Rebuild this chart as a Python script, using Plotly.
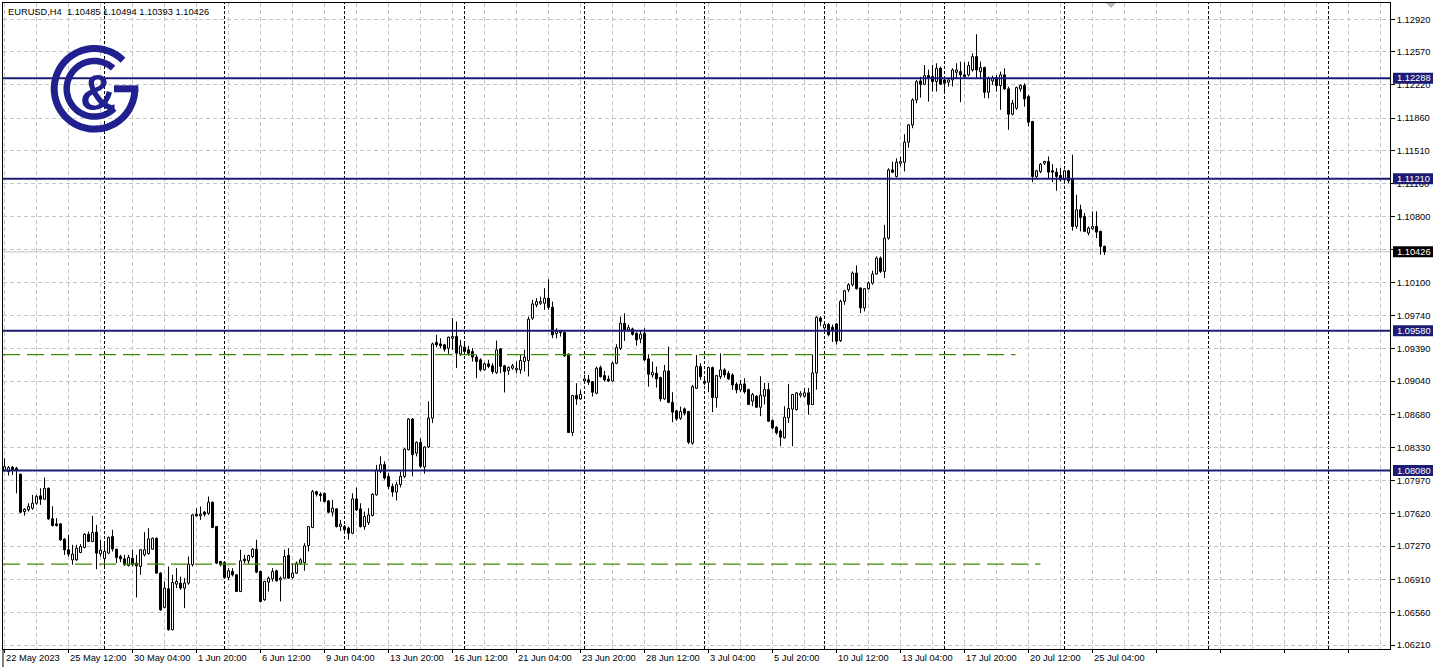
import numpy as np
import plotly.graph_objects as go

# ---------------- data (EURUSD H4 candles) ----------------
opens = [
1.08077,1.08069,1.08116,1.08105,1.08041,1.07641,1.07659,1.07677,1.07730,1.07809,
1.07773,1.07891,1.07563,1.07509,1.07509,1.07345,1.07231,1.07123,1.07123,1.07202,
1.07256,1.07398,1.07320,1.07420,1.07188,1.07138,1.07195,1.07373,1.07238,1.07159,
1.07134,1.07063,1.07141,1.07088,1.07052,1.07177,1.07191,1.07238,1.07355,1.06981,
1.06613,1.06813,1.06374,1.06863,1.06874,1.06820,1.06874,1.07070,1.07612,1.07595,
1.07634,1.07623,1.07741,1.07480,1.07105,1.07095,1.06934,1.06999,1.06963,1.06784,
1.07131,1.07113,1.07159,1.07238,1.06999,1.06695,1.06884,1.06920,1.07006,1.06909,
1.06927,1.07170,1.06934,1.06981,1.07088,1.07095,1.07277,1.07470,1.07855,1.07827,
1.07837,1.07755,1.07634,1.07670,1.07480,1.07480,1.07463,1.07409,1.07777,1.07670,
1.07480,1.07523,1.07598,1.07820,1.08072,1.08144,1.08018,1.07910,1.07850,1.07930,
1.08018,1.08304,1.08633,1.08268,1.08383,1.08119,1.08333,1.08643,1.09454,1.09439,
1.09429,1.09393,1.09500,1.09518,1.09332,1.09404,1.09375,1.09357,1.09297,1.09268,
1.09161,1.09225,1.09204,1.09132,1.09386,1.09204,1.09154,1.09179,1.09161,1.09161,
1.09250,1.09261,1.09714,1.09857,1.09875,1.09875,1.09929,1.09832,1.09550,1.09572,
1.09561,1.09328,1.08489,1.08885,1.08849,1.09042,1.09053,1.09035,1.08910,1.09185,
1.09099,1.09060,1.09042,1.09231,1.09392,1.09660,1.09588,1.09599,1.09553,1.09492,
1.09553,1.09278,1.09106,1.09124,1.09078,1.08849,1.09149,1.08813,1.08721,1.08642,
1.08742,1.08714,1.08375,1.08963,1.09196,1.09035,1.09028,1.09185,1.08863,1.09088,
1.09160,1.09124,1.09106,1.09006,1.08946,1.09010,1.08949,1.08825,1.08878,1.08760,
1.08878,1.08949,1.08617,1.08546,1.08503,1.08432,1.08646,1.08739,1.08735,1.08889,
1.08878,1.08914,1.08789,1.09128,1.09717,1.09610,1.09646,1.09617,1.09653,1.09474,
1.09895,1.10020,1.10074,1.10199,1.10038,1.09824,1.10031,1.10091,1.10188,1.10359,
1.10216,1.10573,1.11305,1.11234,1.11377,1.11387,1.11602,1.11787,1.12055,1.12259,
1.12223,1.12316,1.12306,1.12252,1.12395,1.12270,1.12245,1.12270,1.12352,1.12359,
1.12324,1.12324,1.12377,1.12520,1.12359,1.12402,1.12138,1.12259,1.12295,1.12209,
1.12324,1.12174,1.11902,1.11967,1.12174,1.12209,1.12091,1.11824,1.11235,1.11288,
1.11377,1.11395,1.11295,1.11281,1.11245,1.11199,1.11295,1.11210,1.10699,1.10878,
1.10806,1.10628,1.10674,1.10699,1.10646,1.10485]

highs = [
1.08212,1.08130,1.08130,1.08120,1.08048,1.07677,1.07730,1.07820,1.07820,1.07891,
1.08005,1.07898,1.07698,1.07570,1.07516,1.07355,1.07391,1.07284,1.07284,1.07291,
1.07409,1.07427,1.07595,1.07498,1.07338,1.07313,1.07373,1.07445,1.07241,1.07177,
1.07177,1.07177,1.07231,1.07177,1.07238,1.07420,1.07463,1.07363,1.07363,1.06991,
1.06891,1.07052,1.06963,1.07034,1.06945,1.06927,1.07159,1.07612,1.07677,1.07695,
1.07648,1.07802,1.07748,1.07487,1.07113,1.07105,1.07034,1.07034,1.06970,1.07231,
1.07177,1.07177,1.07248,1.07338,1.07006,1.06898,1.06945,1.07034,1.07016,1.06945,
1.07231,1.07248,1.07088,1.07105,1.07141,1.07302,1.07487,1.07873,1.07862,1.07848,
1.07844,1.07766,1.07766,1.07677,1.07552,1.07498,1.07480,1.07837,1.07898,1.07730,
1.07641,1.07677,1.07837,1.08141,1.08233,1.08179,1.08054,1.07940,1.07960,1.08072,
1.08322,1.08643,1.08643,1.08393,1.08429,1.08340,1.08822,1.09454,1.09536,1.09500,
1.09439,1.09518,1.09714,1.09679,1.09482,1.09464,1.09418,1.09393,1.09322,1.09286,
1.09240,1.09268,1.09232,1.09475,1.09393,1.09214,1.09197,1.09225,1.09250,1.09322,
1.09375,1.09732,1.09911,1.09929,1.09946,1.10036,1.10132,1.09893,1.09607,1.09589,
1.09579,1.09338,1.08892,1.09017,1.08946,1.09106,1.09106,1.09042,1.09196,1.09206,
1.09149,1.09099,1.09249,1.09435,1.09731,1.09767,1.09642,1.09613,1.09563,1.09588,
1.09606,1.09328,1.09249,1.09196,1.09088,1.09213,1.09410,1.08921,1.08731,1.08767,
1.08756,1.08721,1.08999,1.09321,1.09231,1.09088,1.09196,1.09196,1.09106,1.09338,
1.09178,1.09149,1.09124,1.09028,1.09053,1.09070,1.08960,1.08914,1.08889,1.09092,
1.09020,1.09020,1.08628,1.08557,1.08521,1.08771,1.09010,1.08903,1.08924,1.08931,
1.08967,1.08967,1.09324,1.09735,1.09735,1.09663,1.09663,1.09646,1.09663,1.09913,
1.10020,1.10091,1.10216,1.10281,1.10045,1.10038,1.10109,1.10224,1.10377,1.10377,
1.10716,1.11323,1.11394,1.11430,1.11448,1.11687,1.11794,1.12073,1.12269,1.12305,
1.12430,1.12380,1.12431,1.12448,1.12413,1.12288,1.12281,1.12395,1.12448,1.12466,
1.12459,1.12466,1.12555,1.12759,1.12466,1.12413,1.12306,1.12316,1.12324,1.12359,
1.12395,1.12198,1.12056,1.12198,1.12224,1.12234,1.12109,1.11831,1.11306,1.11377,
1.11402,1.11449,1.11367,1.11324,1.11324,1.11306,1.11306,1.11467,1.11038,1.10931,
1.10842,1.10699,1.10860,1.10860,1.10653,1.10494]

lows = [
1.08069,1.08027,1.08034,1.07837,1.07623,1.07598,1.07641,1.07659,1.07713,1.07713,
1.07766,1.07552,1.07480,1.07480,1.07327,1.07177,1.07159,1.07070,1.07113,1.07195,
1.07248,1.07313,1.07313,1.07023,1.07159,1.07052,1.07188,1.07213,1.07088,1.07098,
1.07059,1.07052,1.07052,1.06720,1.06963,1.07159,1.07177,1.07231,1.06975,1.06577,
1.06606,1.06363,1.06367,1.06820,1.06802,1.06606,1.06856,1.07052,1.07588,1.07552,
1.07588,1.07605,1.07463,1.07077,1.07052,1.06927,1.06909,1.06945,1.06777,1.06777,
1.07088,1.07077,1.07141,1.06981,1.06666,1.06684,1.06784,1.06891,1.06891,1.06677,
1.06920,1.06920,1.06920,1.06970,1.07070,1.07006,1.07213,1.07463,1.07802,1.07748,
1.07741,1.07623,1.07588,1.07470,1.07434,1.07427,1.07338,1.07398,1.07648,1.07470,
1.07445,1.07498,1.07588,1.07812,1.08054,1.07983,1.07880,1.07800,1.07760,1.07900,
1.08001,1.08297,1.08018,1.08233,1.08108,1.08047,1.08322,1.08590,1.09404,1.09393,
1.09357,1.09332,1.09375,1.09179,1.09311,1.09322,1.09311,1.09250,1.09072,1.09143,
1.09154,1.09179,1.09118,1.09118,1.09125,1.08918,1.09107,1.09161,1.09125,1.09118,
1.09143,1.09090,1.09697,1.09832,1.09857,1.09804,1.09804,1.09500,1.09500,1.09518,
1.09300,1.08482,1.08453,1.08785,1.08839,1.09017,1.08999,1.08874,1.08899,1.09078,
1.09035,1.09030,1.09035,1.09221,1.09374,1.09471,1.09571,1.09528,1.09420,1.09446,
1.09256,1.08981,1.09078,1.08971,1.08821,1.08839,1.08803,1.08599,1.08614,1.08624,
1.08671,1.08364,1.08357,1.08956,1.09053,1.08999,1.08921,1.08707,1.08756,1.09063,
1.09078,1.09053,1.08946,1.08910,1.08921,1.08905,1.08782,1.08771,1.08753,1.08664,
1.08789,1.08603,1.08521,1.08467,1.08342,1.08424,1.08592,1.08342,1.08724,1.08864,
1.08864,1.08681,1.08782,1.08949,1.09628,1.09560,1.09520,1.09460,1.09431,1.09460,
1.09859,1.09995,1.10056,1.10020,1.09770,1.09788,1.10020,1.10074,1.10181,1.10199,
1.10145,1.10556,1.11270,1.11223,1.11341,1.11288,1.11544,1.11752,1.12019,1.12080,
1.12216,1.12037,1.12145,1.12145,1.12216,1.12145,1.12199,1.12199,1.12288,1.12031,
1.12288,1.12306,1.12359,1.12288,1.12288,1.12074,1.12074,1.12216,1.12145,1.11949,
1.12163,1.11735,1.11888,1.11949,1.12145,1.11984,1.11770,1.11174,1.11217,1.11270,
1.11359,1.11217,1.11174,1.11081,1.11181,1.11188,1.11163,1.10653,1.10674,1.10646,
1.10638,1.10603,1.10663,1.10574,1.10396,1.10393]

closes = [
1.08123,1.08112,1.08087,1.08084,1.07634,1.07666,1.07695,1.07730,1.07802,1.07773,
1.07891,1.07563,1.07491,1.07491,1.07338,1.07231,1.07184,1.07184,1.07248,1.07266,
1.07398,1.07320,1.07416,1.07195,1.07227,1.07213,1.07363,1.07241,1.07148,1.07134,
1.07070,1.07148,1.07077,1.07059,1.07231,1.07231,1.07348,1.07355,1.06981,1.06588,
1.06820,1.06374,1.06881,1.06891,1.06820,1.06874,1.07077,1.07605,1.07595,1.07612,
1.07612,1.07741,1.07470,1.07088,1.07070,1.06934,1.07006,1.06963,1.06784,1.07113,
1.07113,1.07170,1.07238,1.06991,1.06677,1.06891,1.06927,1.06999,1.06898,1.06927,
1.07159,1.06927,1.06981,1.07088,1.07123,1.07273,1.07480,1.07855,1.07827,1.07812,
1.07748,1.07634,1.07677,1.07480,1.07505,1.07445,1.07409,1.07777,1.07659,1.07480,
1.07588,1.07605,1.07827,1.08087,1.08144,1.08001,1.07910,1.07850,1.07930,1.08018,
1.08311,1.08633,1.08251,1.08383,1.08126,1.08333,1.08643,1.09439,1.09429,1.09418,
1.09382,1.09511,1.09518,1.09339,1.09418,1.09357,1.09339,1.09297,1.09250,1.09161,
1.09225,1.09197,1.09143,1.09375,1.09197,1.09143,1.09186,1.09204,1.09179,1.09261,
1.09297,1.09704,1.09868,1.09893,1.09893,1.09929,1.09832,1.09536,1.09572,1.09561,
1.09310,1.08489,1.08885,1.08849,1.08899,1.09063,1.09028,1.08921,1.09178,1.09088,
1.09053,1.09042,1.09231,1.09399,1.09660,1.09588,1.09613,1.09542,1.09481,1.09542,
1.09267,1.09113,1.09135,1.09063,1.08849,1.09149,1.08813,1.08707,1.08635,1.08714,
1.08696,1.08385,1.08981,1.09196,1.09088,1.09017,1.09185,1.08863,1.09099,1.09160,
1.09106,1.09063,1.08999,1.08946,1.09006,1.08925,1.08789,1.08896,1.08760,1.08889,
1.08949,1.08610,1.08539,1.08485,1.08439,1.08653,1.08746,1.08896,1.08914,1.08907,
1.08914,1.08789,1.09128,1.09724,1.09681,1.09646,1.09538,1.09592,1.09467,1.09895,
1.10009,1.10074,1.10199,1.10031,1.09824,1.10031,1.10091,1.10188,1.10359,1.10216,
1.10573,1.11305,1.11280,1.11387,1.11394,1.11602,1.11787,1.12055,1.12251,1.12223,
1.12316,1.12287,1.12252,1.12395,1.12224,1.12234,1.12270,1.12377,1.12377,1.12324,
1.12306,1.12423,1.12520,1.12377,1.12402,1.12138,1.12288,1.12288,1.12209,1.12324,
1.12174,1.11902,1.12020,1.12188,1.12209,1.12066,1.11817,1.11235,1.11295,1.11367,
1.11395,1.11281,1.11281,1.11235,1.11199,1.11295,1.11188,1.10699,1.10878,1.10796,
1.10646,1.10681,1.10699,1.10638,1.10485,1.10426]

date_labels = ["22 May 2023", "25 May 12:00", "30 May 04:00", "1 Jun 20:00", "6 Jun 12:00",
               "9 Jun 04:00", "13 Jun 20:00", "16 Jun 12:00", "21 Jun 04:00", "23 Jun 20:00",
               "28 Jun 12:00", "3 Jul 04:00", "5 Jul 20:00", "10 Jul 12:00", "13 Jul 04:00",
               "17 Jul 20:00", "20 Jul 12:00", "25 Jul 04:00"]
date_label_bars = [1, 17, 33, 49, 65, 81, 97, 113, 129, 145, 161, 177, 193, 209, 225, 241, 257, 273]
price_ticks = [1.12920, 1.12570, 1.12220, 1.11860, 1.11510, 1.11160, 1.10800, 1.10450, 1.10100,
               1.09740, 1.09390, 1.09040, 1.08680, 1.08330, 1.07970, 1.07620, 1.07270, 1.06910,
               1.06560, 1.06210]
level_lines = [1.12288, 1.11210, 1.09580, 1.08080]
green_levels = [1.09323, 1.07078]
green_end_bars = [253.75, 260.0]
separator_bars = [26, 56, 86, 116, 146, 176, 206, 236, 266, 302, 332]
symbol = "EURUSD,H4"

# ---------------- geometry ----------------
W, H = 1437, 669
PL, PR, PT, PB = 3, 1390, 3, 649          # plot area in pixels
YMIN, YMAX = 1.061671, 1.130948
XMIN, XMAX = 0.625, 347.375

def px2paper(px, py):
    return (px - PL) / (PR - PL), (PB - py) / (PB - PT)

def price2paper(p):
    return (p - YMIN) / (YMAX - YMIN)

NAVY = "#1c1c74"
LOGO = "#20208f"
GRID = "#c4c4c4"
GREEN = "#3c8c0a"
FONT = "Liberation Sans, Arial, sans-serif"
FS = 9.3

n = min(len(opens), len(highs), len(lows), len(closes))
bars = list(range(1, n + 1))

body_base, body_h, body_col = [], [], []
wx, wy = [], []
for b, o, h, l, c in zip(bars, opens, highs, lows, closes):
    top, bot = max(o, c), min(o, c)
    body_base.append(bot)
    body_h.append(max(top - bot, 0.00002))
    body_col.append("white" if c >= o else "black")
    if h > top:
        wx += [b, b, None]; wy += [top, h, None]
    if l < bot:
        wx += [b, b, None]; wy += [l, bot, None]

fig = go.Figure()
fig.add_trace(go.Scatter(x=wx, y=wy, mode="lines", line=dict(color="black", width=1),
                         hoverinfo="skip", showlegend=False))
fig.add_trace(go.Bar(x=bars, y=body_h, base=body_base, width=0.5,
                     marker=dict(color=body_col, line=dict(color="black", width=1)),
                     hoverinfo="skip", showlegend=False))

minor_vals = [b + 8 for b in range(1, 346, 16)]

fig.update_layout(
    width=W, height=H,
    margin=dict(l=PL, r=W - PR, t=PT, b=H - PB, autoexpand=False),
    paper_bgcolor="white", plot_bgcolor="white",
    showlegend=False, bargap=0,
    xaxis=dict(range=[XMIN, XMAX], tickvals=list(range(1, 346, 16)), showticklabels=False,
               ticks="outside", ticklen=3, tickcolor="black",
               showgrid=True, gridcolor=GRID, gridwidth=1, griddash="4px,3px",
               minor=dict(tickvals=minor_vals, showgrid=True, gridcolor=GRID, gridwidth=1,
                          griddash="4px,3px", ticks=""),
               showline=True, linecolor="black", linewidth=1, mirror=True,
               zeroline=False, fixedrange=True, automargin=False),
    yaxis=dict(range=[YMIN, YMAX], side="right", tickvals=price_ticks,
               ticktext=[f"{v:.5f}" for v in price_ticks],
               ticks="outside", ticklen=4, tickcolor="black",
               tickfont=dict(family=FONT, size=FS, color="black"),
               showgrid=True, gridcolor=GRID, gridwidth=1, griddash="4px,3px",
               showline=True, linecolor="black", linewidth=1, mirror=True,
               zeroline=False, fixedrange=True, automargin=False),
)

shapes = []
annos = []

# weekly separators
for b in separator_bars:
    shapes.append(dict(type="line", xref="x", yref="paper", x0=b, x1=b, y0=0, y1=1,
                       line=dict(color="black", width=1, dash="3px,2px"), layer="between"))

# bid line
last = closes[n - 1]
shapes.append(dict(type="line", xref="paper", yref="y", x0=0, x1=1, y0=last, y1=last,
                   line=dict(color="#c0c0c0", width=1), layer="between"))

# green dashed lines
for lv, eb in zip(green_levels, green_end_bars):
    shapes.append(dict(type="line", xref="x", yref="y", x0=XMIN, x1=eb, y0=lv, y1=lv,
                       line=dict(color=GREEN, width=1.3, dash="17px,7px"), layer="above"))

# navy horizontal levels
for lv in level_lines:
    shapes.append(dict(type="line", xref="paper", yref="y", x0=0, x1=1, y0=lv, y1=lv,
                       line=dict(color=NAVY, width=2), layer="above"))

# right-axis price boxes
bx0 = px2paper(1393, 0)[0]
bx1 = px2paper(1433, 0)[0]
tx = px2paper(1395.5, 0)[0]
half = 5.5 / (PB - PT)
for lv, col in [(v, NAVY) for v in level_lines] + [(last, "black")]:
    yc = price2paper(lv)
    shapes.append(dict(type="rect", xref="paper", yref="paper", x0=bx0, x1=bx1,
                       y0=yc - half, y1=yc + half, fillcolor=col, line=dict(width=0),
                       layer="above"))
    annos.append(dict(xref="paper", yref="paper", x=tx, y=yc, xanchor="left", yanchor="middle",
                      text=f"{lv:.5f}", showarrow=False, borderpad=0,
                      font=dict(family=FONT, size=FS, color="white")))

# left frame continuation below axis
shapes.append(dict(type="line", xref="paper", yref="paper", x0=0, x1=0,
                   y0=0, y1=px2paper(0, 667)[1], line=dict(color="black", width=1)))

# shift marker triangle at top
t1 = px2paper(1106, 3); t2 = px2paper(1116, 3); t3 = px2paper(1111, 8)
shapes.append(dict(type="path", xref="paper", yref="paper",
                   path=f"M {t1[0]},{t1[1]} L {t2[0]},{t2[1]} L {t3[0]},{t3[1]} Z",
                   fillcolor="#b8b8b8", line=dict(width=0), layer="above"))

# logo (decoration)
def arc_path(cx, cy, r, a0, a1, npts=80):
    pts = []
    for t in np.linspace(np.radians(a0), np.radians(a1), npts):
        pts.append(px2paper(cx + r * np.cos(t), cy - r * np.sin(t)))
    return "M " + " L ".join(f"{x:.6f},{y:.6f}" for x, y in pts)

cx, cy = 94.5, 88.8
shapes.append(dict(type="path", xref="paper", yref="paper", path=arc_path(cx, cy, 40.3, 45, 360),
                   line=dict(color=LOGO, width=7), layer="above"))
shapes.append(dict(type="path", xref="paper", yref="paper", path=arc_path(cx, cy, 27.8, 48, 315),
                   line=dict(color=LOGO, width=6.5), layer="above"))
g0 = px2paper(114, cy); g1 = px2paper(138.3, cy)
shapes.append(dict(type="line", xref="paper", yref="paper", x0=g0[0], x1=g1[0], y0=g0[1], y1=g1[1],
                   line=dict(color=LOGO, width=7), layer="above"))
ap = px2paper(98, 93)
annos.append(dict(xref="paper", yref="paper", x=ap[0], y=ap[1], xanchor="center", yanchor="middle",
                  text="<b>&amp;</b>", showarrow=False,
                  font=dict(family=FONT, size=50, color=LOGO)))

# title
tp = px2paper(7, 11.7)
annos.append(dict(xref="paper", yref="paper", x=tp[0], y=tp[1], xanchor="left", yanchor="middle",
                  text=f"{symbol}\u00a0 {opens[n-1]:.5f} {highs[n-1]:.5f} {lows[n-1]:.5f} {closes[n-1]:.5f}",
                  showarrow=False, borderpad=0, font=dict(family=FONT, size=FS, color="black")))

# date labels
ly = px2paper(0, 658)[1]
for lbl, b in zip(date_labels, date_label_bars):
    annos.append(dict(xref="x", yref="paper", x=b, y=ly, xanchor="left", yanchor="middle",
                      text=lbl, showarrow=False, borderpad=0,
                      font=dict(family=FONT, size=FS, color="black")))

fig.update_layout(shapes=shapes, annotations=annos)
fig.write_html("out.html", config={"displayModeBar": False, "staticPlot": True})

# remove default page margin so the figure sits at the window's top-left corner
with open("out.html", "r", encoding="utf-8") as f:
    html = f.read()
html = html.replace("<body>", '<body style="margin:0;padding:0;overflow:hidden">', 1)
with open("out.html", "w", encoding="utf-8") as f:
    f.write(html)
